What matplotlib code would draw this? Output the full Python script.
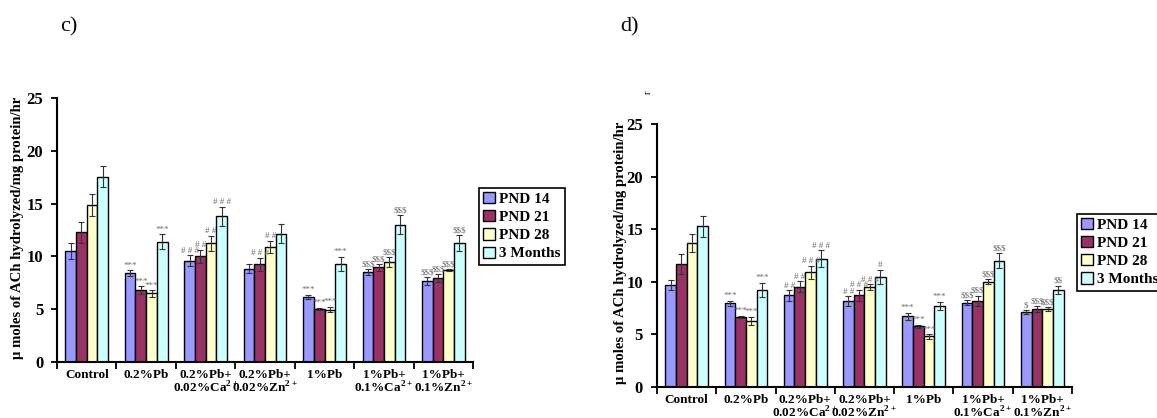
import numpy as np
import matplotlib.pyplot as plt

plt.rcParams['font.family'] = ['Liberation Serif', 'DejaVu Serif']
plt.rcParams['mathtext.fontset'] = 'custom'
plt.rcParams['mathtext.rm'] = 'Liberation Serif:bold'
plt.rcParams['mathtext.bf'] = 'Liberation Serif:bold'

groups = ["Control", "0.2%Pb", "0.2%Pb+\n0.02%Ca$^{2+}$", "0.2%Pb+\n0.02%Zn$^{2+}$",
          "1%Pb", "1%Pb+\n0.1%Ca$^{2+}$", "1%Pb+\n0.1%Zn$^{2+}$"]
series = ["PND 14", "PND 21", "PND 28", "3 Months"]
colors = ["#9999FF", "#993366", "#FFFFCC", "#CCFFFF"]

# panel c
c_pnd14 = [10.5, 8.4, 9.6, 8.85, 6.15, 8.5, 7.65]
c_pnd21 = [12.3, 6.8, 10.0, 9.25, 5.05, 8.95, 7.95]
c_pnd28 = [14.85, 6.5, 11.25, 10.9, 4.95, 9.45, 8.7]
c_3m = [17.55, 11.4, 13.8, 12.15, 9.3, 13.0, 11.25]
c_err14 = [0.75, 0.3, 0.5, 0.45, 0.2, 0.3, 0.4]
c_err21 = [1.0, 0.35, 0.65, 0.6, 0.1, 0.3, 0.4]
c_err28 = [1.05, 0.3, 0.7, 0.6, 0.25, 0.5, 0.12]
c_err3m = [1.0, 0.7, 0.9, 0.9, 0.65, 0.9, 0.75]
c_sig14 = ["", "***", "# # #", "", "***", "$$$", "$$$"]
c_sig21 = ["", "***", "# #", "# # #", "***", "$$$", "$$$"]
c_sig28 = ["", "***", "# #", "# #", "***", "$$$", "$$$"]
c_sig3m = ["", "***", "# # #", "", "***", "$$$", "$$$"]

# panel d
d_pnd14 = [9.7, 7.95, 8.7, 8.15, 6.7, 8.0, 7.1]
d_pnd21 = [11.65, 6.65, 9.55, 8.7, 5.75, 8.2, 7.4]
d_pnd28 = [13.65, 6.3, 10.9, 9.5, 4.8, 10.0, 7.4]
d_3m = [15.3, 9.25, 12.2, 10.45, 7.7, 12.0, 9.25]
d_err14 = [0.45, 0.25, 0.48, 0.48, 0.35, 0.25, 0.2]
d_err21 = [0.95, 0.13, 0.5, 0.54, 0.15, 0.48, 0.3]
d_err28 = [0.85, 0.38, 0.6, 0.25, 0.2, 0.25, 0.22]
d_err3m = [1.0, 0.67, 0.8, 0.7, 0.38, 0.7, 0.38]
d_sig14 = ["", "***", "# #", "# #", "***", "$$$", "$"]
d_sig21 = ["", "***", "# #", "# # #", "***", "$$$", "$$$"]
d_sig28 = ["", "***", "# # #", "# # #", "***", "$$$", "$$$"]
d_sig3m = ["", "***", "# # #", "#", "***", "$$$", "$$"]

ylabel = "\u03bc moles of ACh hydrolyzed/mg protein/hr"


def draw_panel(ax, means, errs, sigs):
    x = np.arange(len(groups)) + 0.5
    w = 0.18
    bars = []
    for i in range(4):
        pos = x + (i - 1.5) * w
        b = ax.bar(pos, means[i], w, color=colors[i], edgecolor="black", linewidth=1.0,
                   yerr=errs[i], error_kw=dict(ecolor="#333333", elinewidth=0.8, capsize=2.2, capthick=0.8),
                   label=series[i], zorder=2)
        bars.append(b)
        for j in range(len(groups)):
            s = sigs[i][j]
            if s:
                ax.annotate(s.replace("$", r"\$"), (pos[j], means[i][j] + errs[i][j]),
                            xytext=(0, 0.5), textcoords="offset points", ha="center", va="bottom",
                            fontsize=6.5, color="#6a6a6a")
    ax.set_xlim(0, len(groups))
    ax.set_ylim(0, 25)
    ax.set_yticks([0, 5, 10, 15, 20, 25])
    ax.tick_params(axis="y", direction="out", length=4, width=1.3, labelsize=12, pad=6)
    for lab in ax.get_yticklabels():
        lab.set_fontweight("bold")
    ax.set_xticks(x)
    ax.set_xticklabels(groups, fontsize=9.5, fontweight="bold", linespacing=0.95)
    ax.tick_params(axis="x", which="major", length=0, pad=5)
    ax.set_xticks(np.arange(len(groups) + 1), minor=True)
    ax.tick_params(axis="x", which="minor", direction="out", length=5, width=1.3)
    for side in ["top", "right"]:
        ax.spines[side].set_visible(False)
    for side in ["left", "bottom"]:
        ax.spines[side].set_linewidth(1.5)
    return bars


def add_legend(handles, anchor):
    leg = fig.legend(handles=handles, loc="upper left", bbox_to_anchor=anchor,
                     prop=dict(weight="bold", size=11), frameon=True, fancybox=False,
                     edgecolor="black", framealpha=1, handlelength=0.75, handleheight=0.75,
                     handletextpad=0.3, labelspacing=0.28, borderpad=0.28, borderaxespad=0)
    leg.get_frame().set_linewidth(1.2)


fig = plt.figure(figsize=(11.57, 4.18), dpi=100)

axc = fig.add_axes([0.0493, 0.134, 0.3596, 0.6316])
bars = draw_panel(axc, [c_pnd14, c_pnd21, c_pnd28, c_3m], [c_err14, c_err21, c_err28, c_err3m],
                  [c_sig14, c_sig21, c_sig28, c_sig3m])
fig.text(0.015, 0.455, ylabel, rotation=90, ha="center", va="center", fontsize=10.6, fontweight="bold")
add_legend(bars, (0.414, 0.551))

axd = fig.add_axes([0.5678, 0.0742, 0.3587, 0.6292])
bars = draw_panel(axd, [d_pnd14, d_pnd21, d_pnd28, d_3m], [d_err14, d_err21, d_err28, d_err3m],
                  [d_sig14, d_sig21, d_sig28, d_sig3m])
fig.text(0.536, 0.395, ylabel, rotation=90, ha="center", va="center", fontsize=10.6, fontweight="bold")
add_legend(bars, (0.931, 0.489))

fig.text(0.560, 0.78, "r", rotation=90, ha="center", va="center", fontsize=7)
fig.text(0.0597, 0.935, "c)", ha="center", va="center", fontsize=16)
fig.text(0.5445, 0.935, "d)", ha="center", va="center", fontsize=16)

fig.savefig("out.png", dpi=100)
